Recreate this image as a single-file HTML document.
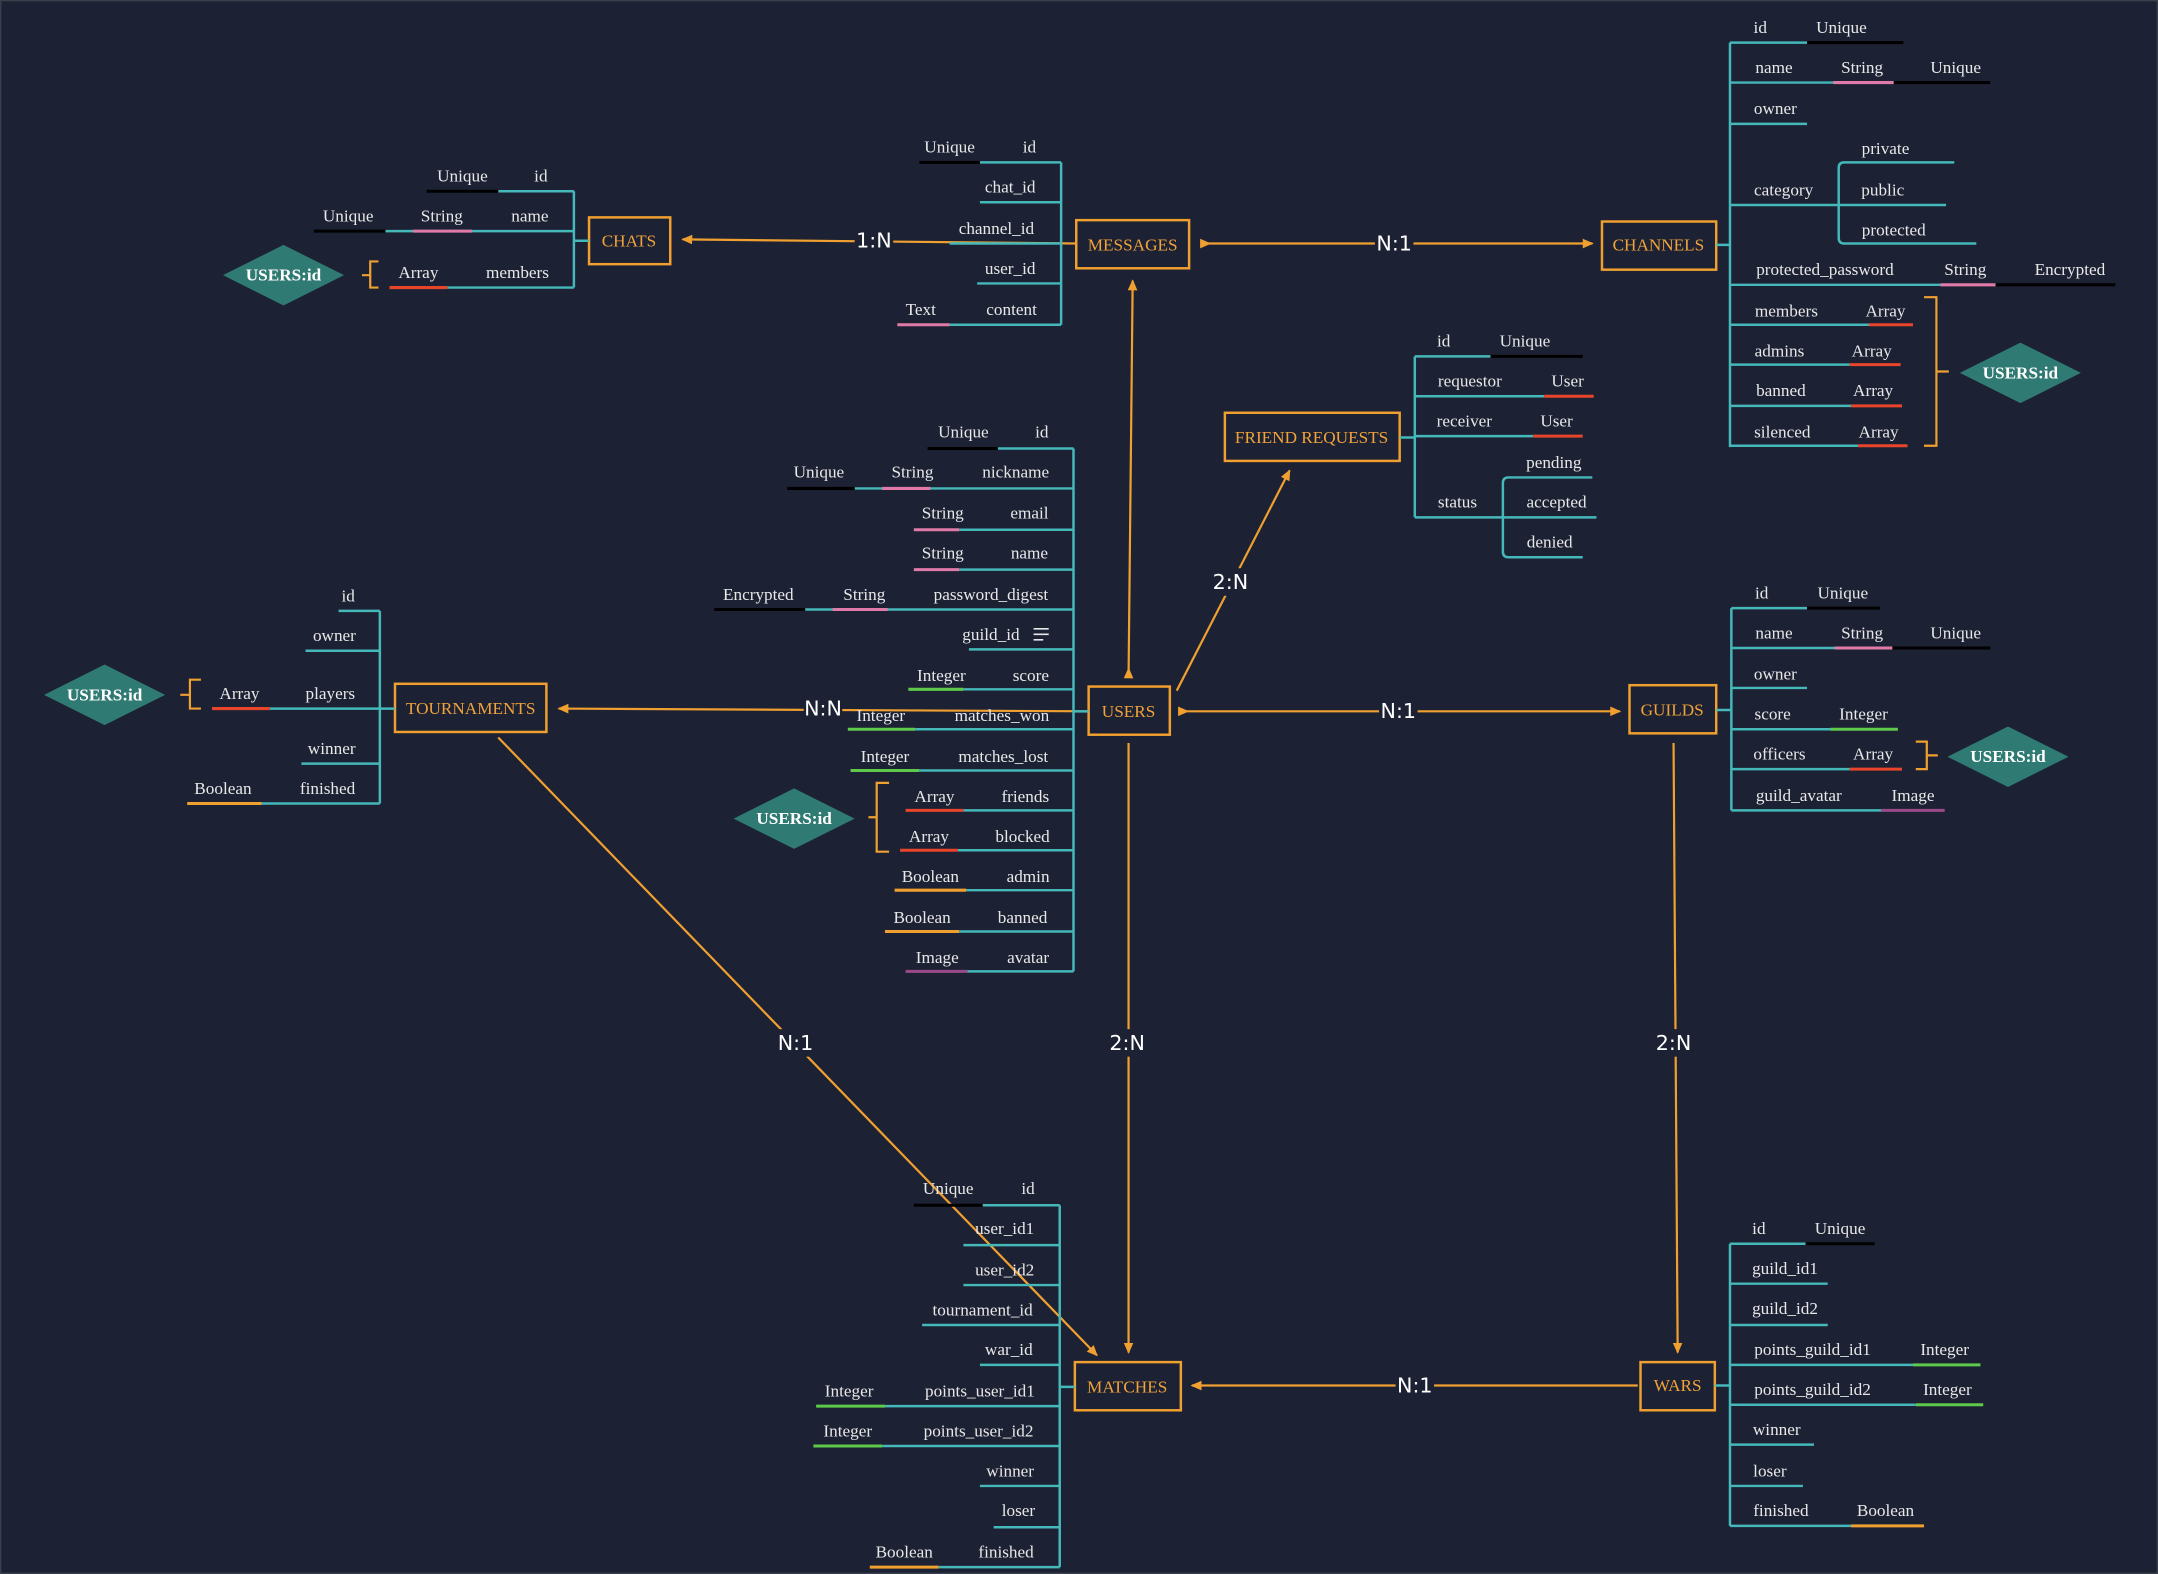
<!DOCTYPE html>
<html><head><meta charset="utf-8"><style>
html,body{margin:0;padding:0;background:#1c2133;}
svg{display:block}
.t{font-family:"Liberation Serif",serif;font-size:12.5px;fill:#e8e8e8;text-anchor:middle}
.e{font-family:"Liberation Serif",serif;font-size:12.5px;fill:#f2a33a;text-anchor:middle}
.d{font-family:"Liberation Serif",serif;font-size:12.5px;fill:#fff;font-weight:bold;text-anchor:middle}
.l{font-family:"DejaVu Sans",sans-serif;font-size:15px;fill:#fff;text-anchor:middle}
.tl{stroke:#45b8ba;stroke-width:1.8;fill:none}
.k{stroke:#000;stroke-width:2.2}
.p{stroke:#e07aa8;stroke-width:2.2}
.r{stroke:#e8452a;stroke-width:2.2}
.g{stroke:#5ec94a;stroke-width:2.2}
.o{stroke:#f0a030;stroke-width:2.2}
.v{stroke:#9a4a8a;stroke-width:2.2}
.box{fill:none;stroke:#f0a030;stroke-width:1.8}
.c{stroke:#f0a030;stroke-width:1.6;fill:none}
.dm{fill:#2f7a72}
.lb{fill:#1c2133}
</style></head><body>
<svg width="2158" height="1574" viewBox="0 0 1568 1144" preserveAspectRatio="none" xmlns="http://www.w3.org/2000/svg">
<defs><marker id="a" markerWidth="8" markerHeight="8" refX="7" refY="4" orient="auto" markerUnits="userSpaceOnUse"><path d="M0,0.5 L8,4 L0,7.5 Z" fill="#f0a030"/></marker>
<marker id="s" markerWidth="8" markerHeight="8" refX="1" refY="4" orient="auto" markerUnits="userSpaceOnUse"><path d="M0,0.5 L8,4 L0,7.5 Z" fill="#f0a030"/></marker></defs>
<rect width="1568" height="1144" fill="#1c2133"/>
<rect x="0.5" y="0.5" width="1567" height="1143" fill="none" stroke="#3a3f4c" stroke-width="1"/>

<!-- connectors -->
<line class="c" x1="782" y1="177" x2="496" y2="174" marker-end="url(#a)"/>
<rect class="lb" x="621" y="164" width="28" height="20"/><text class="l" x="635" y="180">1:N</text>
<line class="c" x1="873" y1="177" x2="1157" y2="177" marker-start="url(#s)" marker-end="url(#a)"/>
<rect class="lb" x="999" y="167" width="28" height="20"/><text class="l" x="1013" y="182">N:1</text>
<line class="c" x1="820" y1="492" x2="823" y2="204" marker-start="url(#s)" marker-end="url(#a)"/>
<line class="c" x1="855" y1="502" x2="937" y2="342" marker-end="url(#a)"/>
<rect class="lb" x="880" y="413" width="28" height="20"/><text class="l" x="894" y="428">2:N</text>
<line class="c" x1="790" y1="517" x2="406" y2="515" marker-end="url(#a)"/>
<rect class="lb" x="584" y="506" width="28" height="20"/><text class="l" x="598" y="520">N:N</text>
<line class="c" x1="857" y1="517" x2="1177" y2="517" marker-start="url(#s)" marker-end="url(#a)"/>
<rect class="lb" x="1002" y="507" width="28" height="20"/><text class="l" x="1016" y="522">N:1</text>
<line class="c" x1="820" y1="540" x2="820" y2="983" marker-end="url(#a)"/>
<rect class="lb" x="805" y="748" width="28" height="20"/><text class="l" x="819" y="763">2:N</text>
<line class="c" x1="362" y1="536" x2="797" y2="985" marker-end="url(#a)"/>
<rect class="lb" x="564" y="748" width="28" height="20"/><text class="l" x="578" y="763">N:1</text>
<line class="c" x1="1216" y1="540" x2="1219" y2="983" marker-end="url(#a)"/>
<rect class="lb" x="1202" y="748" width="28" height="20"/><text class="l" x="1216" y="763">2:N</text>
<line class="c" x1="1190" y1="1007" x2="866" y2="1007" marker-end="url(#a)"/>
<rect class="lb" x="1014" y="997" width="28" height="20"/><text class="l" x="1028" y="1012">N:1</text>

<!-- CHATS -->
<rect class="box" x="428" y="158" width="59" height="34"/><text class="e" x="457" y="179">CHATS</text>
<path class="tl" d="M417 139V209M417 175H428M362 139H417M280 168H417M325 209H417"/>
<line class="k" x1="310" y1="139" x2="362" y2="139"/><line class="k" x1="228" y1="168" x2="280" y2="168"/>
<line class="p" x1="300" y1="168" x2="343" y2="168"/><line class="r" x1="283" y1="209" x2="325" y2="209"/>
<text class="t" x="336" y="132">Unique</text><text class="t" x="393" y="132">id</text>
<text class="t" x="253" y="161">Unique</text><text class="t" x="321" y="161">String</text><text class="t" x="385" y="161">name</text>
<text class="t" x="304" y="202">Array</text><text class="t" x="376" y="202">members</text>
<path class="c" d="M275 190H269V209H275M269 200H263"/>
<polygon class="dm" points="162,200 206,178 250,200 206,222"/><text class="d" x="206" y="204">USERS:id</text>

<!-- MESSAGES -->
<rect class="box" x="782" y="160" width="82" height="35"/><text class="e" x="823" y="182">MESSAGES</text>
<path class="tl" d="M771 118V236M712 118H771M712 147H771M690 177H771M710 206H771M690 236H771"/>
<line class="k" x1="668" y1="118" x2="712" y2="118"/><line class="p" x1="652" y1="236" x2="690" y2="236"/>
<text class="t" x="690" y="111">Unique</text><text class="t" x="748" y="111">id</text>
<text class="t" x="734" y="140">chat_id</text><text class="t" x="724" y="170">channel_id</text>
<text class="t" x="734" y="199">user_id</text><text class="t" x="669" y="229">Text</text><text class="t" x="735" y="229">content</text>

<!-- CHANNELS -->
<rect class="box" x="1164" y="161" width="83" height="35"/><text class="e" x="1205" y="182">CHANNELS</text>
<path class="tl" d="M1257 31V325M1247 178H1257M1257 31H1313M1257 60H1376M1257 90H1313M1257 149H1336M1257 207H1450M1257 236H1358M1257 265H1344M1257 295H1345M1257 324H1350M1336 149V122Q1336 118 1340 118H1420M1336 149H1414M1336 149V173Q1336 177 1340 177H1436"/>
<line class="k" x1="1313" y1="31" x2="1383" y2="31"/><line class="p" x1="1332" y1="60" x2="1376" y2="60"/><line class="k" x1="1376" y1="60" x2="1446" y2="60"/>
<line class="p" x1="1410" y1="207" x2="1450" y2="207"/><line class="k" x1="1450" y1="207" x2="1537" y2="207"/>
<line class="r" x1="1358" y1="236" x2="1390" y2="236"/><line class="r" x1="1344" y1="265" x2="1381" y2="265"/>
<line class="r" x1="1345" y1="295" x2="1382" y2="295"/><line class="r" x1="1350" y1="324" x2="1386" y2="324"/>
<text class="t" x="1279" y="24">id</text><text class="t" x="1338" y="24">Unique</text>
<text class="t" x="1289" y="53">name</text><text class="t" x="1353" y="53">String</text><text class="t" x="1421" y="53">Unique</text>
<text class="t" x="1290" y="83">owner</text><text class="t" x="1296" y="142">category</text>
<text class="t" x="1370" y="112">private</text><text class="t" x="1368" y="142">public</text><text class="t" x="1376" y="171">protected</text>
<text class="t" x="1326" y="200">protected_password</text><text class="t" x="1428" y="200">String</text><text class="t" x="1504" y="200">Encrypted</text>
<text class="t" x="1298" y="230">members</text><text class="t" x="1370" y="230">Array</text>
<text class="t" x="1293" y="259">admins</text><text class="t" x="1360" y="259">Array</text>
<text class="t" x="1294" y="288">banned</text><text class="t" x="1361" y="288">Array</text>
<text class="t" x="1295" y="318">silenced</text><text class="t" x="1365" y="318">Array</text>
<path class="c" d="M1398 216H1407V324H1398M1407 270H1416"/>
<polygon class="dm" points="1424,271 1468,249 1512,271 1468,293"/><text class="d" x="1468" y="275">USERS:id</text>

<!-- FRIEND REQUESTS -->
<rect class="box" x="890" y="300" width="127" height="35"/><text class="e" x="953" y="322">FRIEND REQUESTS</text>
<path class="tl" d="M1028 259V376M1017 318H1028M1028 259H1083M1028 288H1122M1028 317H1114M1028 376H1092M1092 376V351Q1092 347 1096 347H1157M1092 376H1160M1092 376V401Q1092 405 1096 405H1150"/>
<line class="k" x1="1083" y1="259" x2="1150" y2="259"/><line class="r" x1="1122" y1="288" x2="1158" y2="288"/><line class="r" x1="1114" y1="317" x2="1150" y2="317"/>
<text class="t" x="1049" y="252">id</text><text class="t" x="1108" y="252">Unique</text>
<text class="t" x="1068" y="281">requestor</text><text class="t" x="1139" y="281">User</text>
<text class="t" x="1064" y="310">receiver</text><text class="t" x="1131" y="310">User</text>
<text class="t" x="1059" y="369">status</text><text class="t" x="1129" y="340">pending</text><text class="t" x="1131" y="369">accepted</text><text class="t" x="1126" y="398">denied</text>

<!-- USERS -->
<rect class="box" x="791" y="499" width="59" height="35"/><text class="e" x="820" y="521">USERS</text>
<path class="tl" d="M780 326V706M780 517H791M725 326H780M621 355H780M697 385H780M697 414H780M585 443H780M704 472H780M700 501H780M665 530H780M668 560H780M700 589H780M696 618H780M702 647H780M697 677H780M703 706H780"/>
<line class="k" x1="674" y1="326" x2="725" y2="326"/><line class="k" x1="572" y1="355" x2="621" y2="355"/><line class="p" x1="641" y1="355" x2="676" y2="355"/>
<line class="p" x1="664" y1="385" x2="697" y2="385"/><line class="p" x1="664" y1="414" x2="697" y2="414"/>
<line class="k" x1="519" y1="443" x2="585" y2="443"/><line class="p" x1="605" y1="443" x2="645" y2="443"/>
<line class="g" x1="660" y1="501" x2="700" y2="501"/><line class="g" x1="616" y1="530" x2="665" y2="530"/><line class="g" x1="618" y1="560" x2="668" y2="560"/>
<line class="r" x1="658" y1="589" x2="700" y2="589"/><line class="r" x1="654" y1="618" x2="696" y2="618"/>
<line class="o" x1="650" y1="647" x2="702" y2="647"/><line class="o" x1="643" y1="677" x2="697" y2="677"/><line class="v" x1="658" y1="706" x2="703" y2="706"/>
<text class="t" x="700" y="318">Unique</text><text class="t" x="757" y="318">id</text>
<text class="t" x="595" y="347">Unique</text><text class="t" x="663" y="347">String</text><text class="t" x="738" y="347">nickname</text>
<text class="t" x="685" y="377">String</text><text class="t" x="748" y="377">email</text>
<text class="t" x="685" y="406">String</text><text class="t" x="748" y="406">name</text>
<text class="t" x="551" y="436">Encrypted</text><text class="t" x="628" y="436">String</text><text class="t" x="720" y="436">password_digest</text>
<text class="t" x="720" y="465">guild_id</text><path d="M751 457H762M751 461H762M751 465H758" stroke="#e8e8e8" stroke-width="1.2"/>
<text class="t" x="684" y="495">Integer</text><text class="t" x="749" y="495">score</text>
<text class="t" x="640" y="524">Integer</text><text class="t" x="728" y="524">matches_won</text>
<text class="t" x="643" y="554">Integer</text><text class="t" x="729" y="554">matches_lost</text>
<text class="t" x="679" y="583">Array</text><text class="t" x="745" y="583">friends</text>
<text class="t" x="675" y="612">Array</text><text class="t" x="743" y="612">blocked</text>
<text class="t" x="676" y="641">Boolean</text><text class="t" x="747" y="641">admin</text>
<text class="t" x="670" y="671">Boolean</text><text class="t" x="743" y="671">banned</text>
<text class="t" x="681" y="700">Image</text><text class="t" x="747" y="700">avatar</text>
<path class="c" d="M646 569H637V619H646M637 594H631"/>
<polygon class="dm" points="533,595 577,573 621,595 577,617"/><text class="d" x="577" y="599">USERS:id</text>

<!-- TOURNAMENTS -->
<rect class="box" x="287" y="497" width="110" height="35"/><text class="e" x="342" y="519">TOURNAMENTS</text>
<path class="tl" d="M276 444V584M246 444H276M222 473H276M196 515H287M219 555H276M190 584H276"/>
<line class="r" x1="154" y1="515" x2="196" y2="515"/><line class="o" x1="136" y1="584" x2="190" y2="584"/>
<text class="t" x="253" y="437">id</text><text class="t" x="243" y="466">owner</text>
<text class="t" x="174" y="508">Array</text><text class="t" x="240" y="508">players</text>
<text class="t" x="241" y="548">winner</text><text class="t" x="162" y="577">Boolean</text><text class="t" x="238" y="577">finished</text>
<path class="c" d="M146 494H138V515H146M138 505H131"/>
<polygon class="dm" points="32,505 76,483 120,505 76,527"/><text class="d" x="76" y="509">USERS:id</text>

<!-- GUILDS -->
<rect class="box" x="1184" y="498" width="63" height="35"/><text class="e" x="1215" y="520">GUILDS</text>
<path class="tl" d="M1258 442V589M1247 516H1258M1258 442H1313M1258 471H1375M1258 500H1313M1258 530H1330M1258 559H1344M1258 589H1367"/>
<line class="k" x1="1313" y1="442" x2="1366" y2="442"/><line class="p" x1="1333" y1="471" x2="1375" y2="471"/><line class="k" x1="1375" y1="471" x2="1446" y2="471"/>
<line class="g" x1="1330" y1="530" x2="1379" y2="530"/><line class="r" x1="1344" y1="559" x2="1382" y2="559"/><line class="v" x1="1367" y1="589" x2="1413" y2="589"/>
<text class="t" x="1280" y="435">id</text><text class="t" x="1339" y="435">Unique</text>
<text class="t" x="1289" y="464">name</text><text class="t" x="1353" y="464">String</text><text class="t" x="1421" y="464">Unique</text>
<text class="t" x="1290" y="494">owner</text><text class="t" x="1288" y="523">score</text><text class="t" x="1354" y="523">Integer</text>
<text class="t" x="1293" y="552">officers</text><text class="t" x="1361" y="552">Array</text>
<text class="t" x="1307" y="582">guild_avatar</text><text class="t" x="1390" y="582">Image</text>
<path class="c" d="M1392 539H1400V559H1392M1400 549H1408"/>
<polygon class="dm" points="1415,550 1459,528 1503,550 1459,572"/><text class="d" x="1459" y="554">USERS:id</text>

<!-- MATCHES -->
<rect class="box" x="781" y="990" width="77" height="35"/><text class="e" x="819" y="1012">MATCHES</text>
<path class="tl" d="M770 876V1139M770 1008H781M714 876H770M700 905H770M700 934H770M670 963H770M712 992H770M643 1022H770M641 1051H770M712 1080H770M722 1110H770M682 1139H770"/>
<line class="k" x1="664" y1="876" x2="714" y2="876"/><line class="g" x1="593" y1="1022" x2="643" y2="1022"/><line class="g" x1="591" y1="1051" x2="641" y2="1051"/><line class="o" x1="632" y1="1139" x2="682" y2="1139"/>
<text class="t" x="689" y="868">Unique</text><text class="t" x="747" y="868">id</text>
<text class="t" x="730" y="897">user_id1</text><text class="t" x="730" y="927">user_id2</text>
<text class="t" x="714" y="956">tournament_id</text><text class="t" x="733" y="985">war_id</text>
<text class="t" x="617" y="1015">Integer</text><text class="t" x="712" y="1015">points_user_id1</text>
<text class="t" x="616" y="1044">Integer</text><text class="t" x="711" y="1044">points_user_id2</text>
<text class="t" x="734" y="1073">winner</text><text class="t" x="740" y="1102">loser</text>
<text class="t" x="657" y="1132">Boolean</text><text class="t" x="731" y="1132">finished</text>

<!-- WARS -->
<rect class="box" x="1192" y="990" width="54" height="35"/><text class="e" x="1219" y="1011">WARS</text>
<path class="tl" d="M1257 904V1109M1246 1007H1257M1257 904H1312M1257 933H1328M1257 963H1328M1257 992H1390M1257 1021H1392M1257 1050H1318M1257 1080H1310M1257 1109H1345"/>
<line class="k" x1="1312" y1="904" x2="1362" y2="904"/><line class="g" x1="1390" y1="992" x2="1439" y2="992"/><line class="g" x1="1392" y1="1021" x2="1441" y2="1021"/><line class="o" x1="1345" y1="1109" x2="1398" y2="1109"/>
<text class="t" x="1278" y="897">id</text><text class="t" x="1337" y="897">Unique</text>
<text class="t" x="1297" y="926">guild_id1</text><text class="t" x="1297" y="955">guild_id2</text>
<text class="t" x="1317" y="985">points_guild_id1</text><text class="t" x="1413" y="985">Integer</text>
<text class="t" x="1317" y="1014">points_guild_id2</text><text class="t" x="1415" y="1014">Integer</text>
<text class="t" x="1291" y="1043">winner</text><text class="t" x="1286" y="1073">loser</text>
<text class="t" x="1294" y="1102">finished</text><text class="t" x="1370" y="1102">Boolean</text>
</svg>
</body></html>
